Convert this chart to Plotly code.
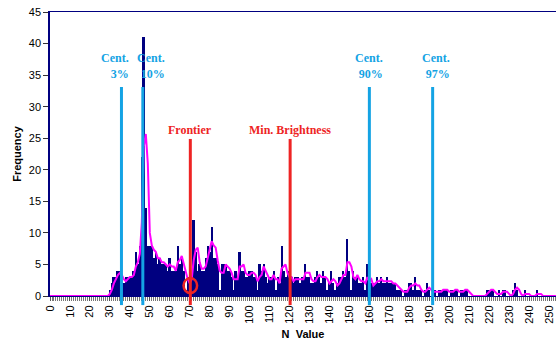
import plotly.graph_objects as go
import pandas as pd

# Histogram of N values (frequency per N, 0..255)
n_values = list(range(256))
freq_30_250 = [
    1, 2, 3, 3, 4, 4, 2, 2, 3, 3,        # 30-39
    3, 3, 4, 7, 5, 8, 22, 41, 14, 8,     # 40-49
    8, 8, 6, 7, 5, 6, 5, 5, 5, 4,        # 50-59
    6, 4, 4, 4, 8, 5, 6, 4, 1, 3,        # 60-69
    2, 3, 12, 7, 4, 5, 4, 4, 6, 8,       # 70-79
    7, 11, 6, 6, 5, 1, 5, 5, 5, 4,       # 80-89
    4, 3, 1, 4, 3, 7, 4, 4, 3, 3,        # 90-99
    4, 4, 3, 3, 1, 5, 4, 5, 3, 2,        # 100-109
    3, 3, 4, 1, 3, 2, 8, 4, 3, 4,        # 110-119
    2, 3, 2, 3, 3, 2, 3, 3, 5, 3,        # 120-129
    3, 2, 2, 3, 4, 3, 2, 4, 3, 1,        # 130-139
    2, 4, 2, 1, 2, 3, 3, 4, 3, 9,        # 140-149
    4, 1, 4, 3, 3, 2, 2, 3, 1, 5,        # 150-159
    1, 2, 2, 2, 3, 2, 3, 2, 2, 3,        # 160-169
    2, 2, 2, 2, 1, 1, 1, 0, 1, 1,        # 170-179
    2, 2, 1, 3, 1, 1, 1, 0, 1, 2,        # 180-189
    1, 0, 1, 1, 0, 1, 1, 1, 1, 1,        # 190-199
    0, 1, 1, 1, 1, 0, 1, 1, 1, 1,        # 200-209
    0, 0, 0, 0, 0, 0, 0, 0, 0, 1,        # 210-219
    1, 1, 1, 0, 0, 1, 0, 1, 1, 0,        # 220-229
    0, 0, 1, 2, 1, 0, 0, 0, 1, 0,        # 230-239
    0, 0, 0, 0, 1, 0, 0, 0, 0, 0, 0,     # 240-250
]
frequency = [0] * 30 + freq_30_250 + [0] * (256 - 30 - len(freq_30_250))

# 3-period moving average trendline
moving_avg = pd.Series(frequency).rolling(3, min_periods=1).mean().tolist()

# Reference markers
centile_pos = [35.8, 46.5, 160.0, 191.7]
centile_txt = ["<b>Cent.<br>3%</b>", "<b>Cent.<br>10%</b>", "<b>Cent.<br>90%</b>", "<b>Cent.<br>97%</b>"]
centile_lbl_x = [40.6, 58.4, 168.0, 201.3]
red_pos = [70.3, 120.3]
red_txt = ["<b>Frontier</b>", "<b>Min. Brightness</b>"]

BLUE = "#14A3E4"
RED = "#EE2424"
NAVY = "#000080"

fig = go.Figure()
fig.add_trace(go.Bar(x=n_values, y=frequency, marker=dict(color=NAVY, line=dict(width=0)),
                     showlegend=False))
fig.add_trace(go.Scatter(x=n_values, y=moving_avg, mode="lines",
                         line=dict(color="#FF00FF", width=2), showlegend=False))

shapes = []
annotations = []
for xp, txt, lx in zip(centile_pos, centile_txt, centile_lbl_x):
    shapes.append(dict(type="line", xref="x", yref="paper", x0=xp, x1=xp, y0=-0.032, y1=0.736,
                       line=dict(color=BLUE, width=3)))
    annotations.append(dict(x=lx, y=0.81, xref="x", yref="paper", text=txt, showarrow=False,
                            xanchor="right", yanchor="middle", align="right",
                            font=dict(family="Liberation Serif", size=12, color=BLUE)))
for xp, txt in zip(red_pos, red_txt):
    shapes.append(dict(type="line", xref="x", yref="paper", x0=xp, x1=xp, y0=-0.032, y1=0.553,
                       line=dict(color=RED, width=3)))
    annotations.append(dict(x=xp, y=0.585, xref="x", yref="paper", text=txt, showarrow=False,
                            xanchor="center", yanchor="middle",
                            font=dict(family="Liberation Serif", size=12, color=RED)))
# circle marking the frontier
shapes.append(dict(type="circle", xref="x", yref="y", x0=red_pos[0] - 3.4, x1=red_pos[0] + 3.4,
                   y0=0.45, y1=2.85, line=dict(color=RED, width=2.5)))

fig.update_layout(
    width=556, height=340,
    margin=dict(l=50, r=0, t=12, b=44),
    paper_bgcolor="white", plot_bgcolor="white",
    bargap=0.0,
    shapes=shapes, annotations=annotations,
    font=dict(family="Liberation Sans", size=11, color="black"),
    xaxis=dict(
        range=[0, 253.5], tickmode="linear", tick0=0, dtick=10, tickangle=-90,
        ticklabeloverflow="allow", automargin=False,
        showgrid=False, zeroline=False, showline=True, linecolor=NAVY, linewidth=1, mirror=True,
        ticks="outside", ticklen=4, tickcolor="#555",
        minor=dict(dtick=1, ticks="outside", ticklen=4, tickcolor="#777", tickwidth=1, showgrid=False),
        title=dict(text="N\u00a0 Value", font=dict(family="Liberation Sans", size=11, weight="bold"),
                   standoff=7),
        tickfont=dict(size=11),
    ),
    yaxis=dict(
        range=[0, 45], dtick=5, showgrid=False, zeroline=False, showline=True,
        linecolor=NAVY, linewidth=1.5, ticks="outside", ticklen=5, tickcolor="#333",
        title=dict(text="Frequency", font=dict(family="Liberation Sans", size=11, weight="bold"),
                   standoff=5),
        tickfont=dict(size=11),
    ),
)

fig.write_html("out.html")
